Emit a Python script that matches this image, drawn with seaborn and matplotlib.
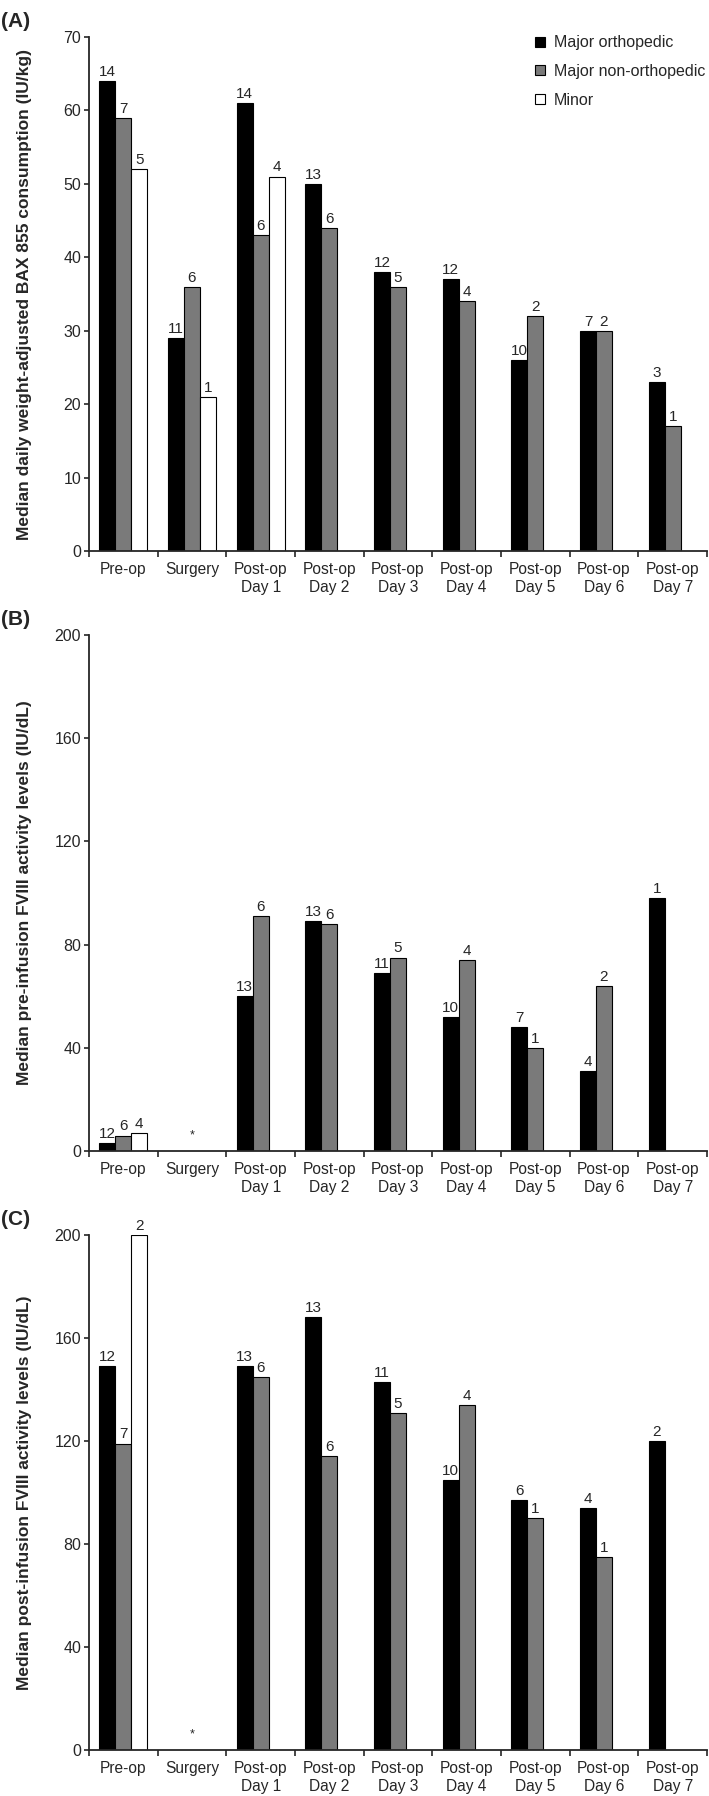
import numpy as np
import pandas as pd
import matplotlib
matplotlib.use('Agg')
import matplotlib.pyplot as plt
from matplotlib.lines import Line2D
import seaborn as sns

# 1. Data
# ------------------------------

categories = ['Pre-op', 'Surgery', 'Post-op\nDay 1', 'Post-op\nDay 2', 'Post-op\nDay 3',
              'Post-op\nDay 4', 'Post-op\nDay 5', 'Post-op\nDay 6', 'Post-op\nDay 7']
groups = ['Major orthopedic', 'Major non-orthopedic', 'Minor']
nan = np.nan

# (A) median daily weight-adjusted consumption (IU/kg)
cons_ortho = [64, 29, 61, 50, 38, 37, 26, 30, 23]
cons_nonortho = [59, 36, 43, 44, 36, 34, 32, 30, 17]
cons_minor = [52, 21, 51, nan, nan, nan, nan, nan, nan]
cons_n_ortho = [14, 11, 14, 13, 12, 12, 10, 7, 3]
cons_n_nonortho = [7, 6, 6, 6, 5, 4, 2, 2, 1]
cons_n_minor = [5, 1, 4, nan, nan, nan, nan, nan, nan]

# (B) median pre-infusion FVIII (IU/dL)
pre_ortho = [3, nan, 60, 89, 69, 52, 48, 31, 98]
pre_nonortho = [6, nan, 91, 88, 75, 74, 40, 64, nan]
pre_minor = [7, nan, nan, nan, nan, nan, nan, nan, nan]
pre_n_ortho = [12, nan, 13, 13, 11, 10, 7, 4, 1]
pre_n_nonortho = [6, nan, 6, 6, 5, 4, 1, 2, nan]
pre_n_minor = [4, nan, nan, nan, nan, nan, nan, nan, nan]

# (C) median post-infusion FVIII (IU/dL)
post_ortho = [149, nan, 149, 168, 143, 105, 97, 94, 120]
post_nonortho = [119, nan, 145, 114, 131, 134, 90, 75, nan]
post_minor = [200, nan, nan, nan, nan, nan, nan, nan, nan]
post_n_ortho = [12, nan, 13, 13, 11, 10, 6, 4, 2]
post_n_nonortho = [7, nan, 6, 6, 5, 4, 1, 1, nan]
post_n_minor = [2, nan, nan, nan, nan, nan, nan, nan, nan]

palette = {'Major orthopedic': 'black', 'Major non-orthopedic': '#7a7a7a', 'Minor': 'white'}


def long_frame(values):
    rows = []
    for grp, vals in zip(groups, values):
        for cat, v in zip(categories, vals):
            rows.append({'Category': cat, 'Group': grp, 'Value': v})
    return pd.DataFrame(rows).dropna()


# 2. Figure
# ---------

sns.set_style('ticks')
plt.rcParams['font.family'] = ['Liberation Sans', 'DejaVu Sans']

fig = plt.figure(figsize=(7.09, 17.96), dpi=100)
ax_a = fig.add_axes([89 / 709, 1 - 551 / 1796, 618 / 709, 514 / 1796])
ax_b = fig.add_axes([89 / 709, 1 - 1151 / 1796, 618 / 709, 516 / 1796])
ax_c = fig.add_axes([89 / 709, 1 - 1750 / 1796, 618 / 709, 515 / 1796])

panels = [
    (ax_a, [cons_ortho, cons_nonortho, cons_minor], [cons_n_ortho, cons_n_nonortho, cons_n_minor],
     70, 10, 'Median daily weight-adjusted BAX 855 consumption (IU/kg)', '(A)', False),
    (ax_b, [pre_ortho, pre_nonortho, pre_minor], [pre_n_ortho, pre_n_nonortho, pre_n_minor],
     200, 40, 'Median pre-infusion FVIII activity levels (IU/dL)', '(B)', True),
    (ax_c, [post_ortho, post_nonortho, post_minor], [post_n_ortho, post_n_nonortho, post_n_minor],
     200, 40, 'Median post-infusion FVIII activity levels (IU/dL)', '(C)', True),
]

for ax, values, counts, ymax, ystep, ylabel, tag, star in panels:
    df = long_frame(values)
    sns.barplot(data=df, x='Category', y='Value', hue='Group', order=categories,
                hue_order=groups, palette=palette, width=0.7, edgecolor='black',
                linewidth=0.8, errorbar=None, legend=False, ax=ax)

    # n above each bar
    for gi, cont in enumerate(ax.containers):
        for bar in cont:
            h = bar.get_height()
            if np.isnan(h):
                continue
            xc = bar.get_x() + bar.get_width() / 2
            ci = int(round(xc))
            n = counts[gi][ci]
            if np.isnan(n):
                continue
            ax.annotate(f'{int(n)}', (xc, h), xytext=(0, 1.5), textcoords='offset points',
                        ha='center', va='bottom', fontsize=11)

    if star:
        ax.text(categories.index('Surgery'), ymax * 0.018, '*', ha='center', va='bottom', fontsize=9)

    ax.set_xlim(-0.5, len(categories) - 0.5)
    ax.set_ylim(0, ymax)
    ax.set_yticks(np.arange(0, ymax + 1, ystep))
    ax.set_xticks(np.arange(-0.5, len(categories)), labels=[])
    ax.set_xticks(np.arange(len(categories)), labels=categories, minor=True)
    ax.tick_params(axis='x', which='major', direction='out', length=4, width=1.2)
    ax.tick_params(axis='x', which='minor', length=0, pad=8, labelsize=11.2)
    ax.tick_params(axis='y', direction='out', length=3.6, width=1.2, pad=2, labelsize=11.5)
    ax.set_xlabel('')
    ax.set_ylabel(ylabel, fontsize=12.5, fontweight='bold')
    ax.yaxis.set_label_coords(-0.093, 0.5)
    for side in ['top', 'right']:
        ax.spines[side].set_visible(False)
    for side in ['left', 'bottom']:
        ax.spines[side].set_linewidth(1.3)
    ax.text(-0.143, 1.012, tag, transform=ax.transAxes, fontsize=15, fontweight='bold',
            ha='left', va='bottom')

handles = [Line2D([], [], linestyle='none', marker='s', markersize=6.5, markerfacecolor=palette[g],
                  markeredgecolor='black', markeredgewidth=0.8) for g in groups]
ax_a.legend(handles, groups, loc='upper left', bbox_to_anchor=(0.72, 1.003), frameon=False,
            fontsize=11.5, handlelength=0.8, handletextpad=0.45, labelspacing=0.85,
            borderpad=0, borderaxespad=0)

fig.savefig('out.png', dpi=100)
